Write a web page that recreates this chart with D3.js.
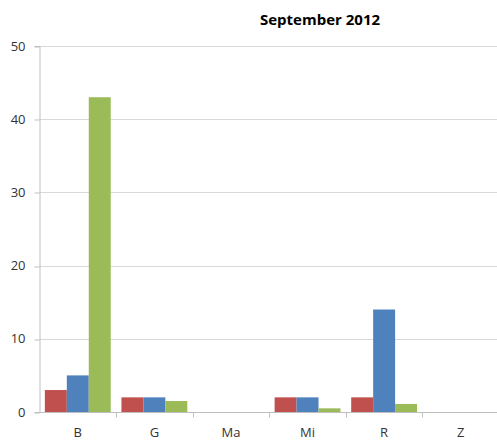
<!DOCTYPE html>
<html>
<head>
<meta charset="utf-8">
<script src="https://cdn.jsdelivr.net/npm/d3@7"></script>
<style>
  body { margin: 0; background: #fff; }
  text { font-family: "Open Sans", "Liberation Sans", sans-serif; fill: #333; }
</style>
</head>
<body>
<svg></svg>
<script>
let width = 497;
let height = 441;

// data
let categories = ['B', 'G', 'Ma', 'Mi', 'R', 'Z'];
let seriesRed = [3, 2, 0, 2, 2, 0];
let seriesBlue = [5, 2, 0, 2, 14, 0];
let seriesGreen = [43, 1.5, 0, 0.5, 1.1, 0];
let yTicks = [0, 10, 20, 30, 40, 50];
let colors = ['#C0504D', '#4F81BD', '#9BBB59'];

let series = [seriesRed, seriesBlue, seriesGreen];

let margin = {top: 46, right: -2, bottom: 29, left: 39.5};

let svg = d3.select('svg')
            .attr('width', width)
            .attr('height', height);

let x = d3.scaleBand()
          .domain(categories)
          .range([margin.left, width - margin.right])
          .paddingInner(0.14)
          .paddingOuter(0.07);

let xBand = d3.scaleBand()
          .domain(categories)
          .range([margin.left, width - margin.right]);

let xInner = d3.scaleBand()
          .domain([0, 1, 2])
          .range([0, x.bandwidth()]);

let y = d3.scaleLinear()
          .domain([0, 50])
          .range([height - margin.bottom, margin.top]);

// gridlines
svg.append('g')
   .selectAll('line')
   .data(yTicks.slice(1))
   .enter()
   .append('line')
   .attr('x1', margin.left)
   .attr('x2', width)
   .attr('y1', d => Math.round(y(d)) + 0.5)
   .attr('y2', d => Math.round(y(d)) + 0.5)
   .attr('stroke', '#d9d9d9');

// y axis
let yAxis = svg.append('g')
   .attr('transform', 'translate(' + margin.left + ',0)')
   .call(d3.axisLeft(y).tickValues(yTicks).tickSize(5).tickPadding(9));
yAxis.select('.domain').attr('stroke', '#bfbfbf');
yAxis.selectAll('.tick line').attr('stroke', '#bfbfbf')
     .attr('transform', d => 'translate(0,' + (Math.round(y(d)) + 0.5 - y(d)) + ')');
yAxis.selectAll('.tick text').style('font-size', '13px').attr('fill', '#333');

// bars
series.forEach(function(vals, i) {
  svg.append('g')
     .selectAll('rect')
     .data(vals)
     .enter()
     .append('rect')
     .attr('x', (d, j) => x(categories[j]) + xInner(i))
     .attr('y', d => y(d))
     .attr('width', xInner.bandwidth())
     .attr('height', d => y(0) - y(d))
     .attr('fill', colors[i]);
});

// x axis
let y0 = Math.round(y(0)) + 0.5;
let xg = svg.append('g');
xg.append('line')
  .attr('x1', margin.left).attr('x2', width)
  .attr('y1', y0).attr('y2', y0)
  .attr('stroke', '#bfbfbf');
xg.selectAll('line.tk')
  .data(categories.slice(1))
  .enter()
  .append('line')
  .attr('class', 'tk')
  .attr('x1', d => Math.round(xBand(d)) + 0.5)
  .attr('x2', d => Math.round(xBand(d)) + 0.5)
  .attr('y1', y0).attr('y2', y0 + 5)
  .attr('stroke', '#bfbfbf');
xg.selectAll('text')
  .data(categories)
  .enter()
  .append('text')
  .attr('x', d => xBand(d) + xBand.bandwidth() / 2)
  .attr('y', 437)
  .attr('text-anchor', 'middle')
  .style('font-size', '13px')
  .text(d => d);

// title
svg.append('text')
   .attr('x', 320)
   .attr('y', 25)
   .attr('text-anchor', 'middle')
   .style('font-size', '15px')
   .style('font-weight', 'bold')
   .attr('fill', '#000')
   .style('fill', '#000')
   .text('September 2012');
</script>
</body>
</html>
